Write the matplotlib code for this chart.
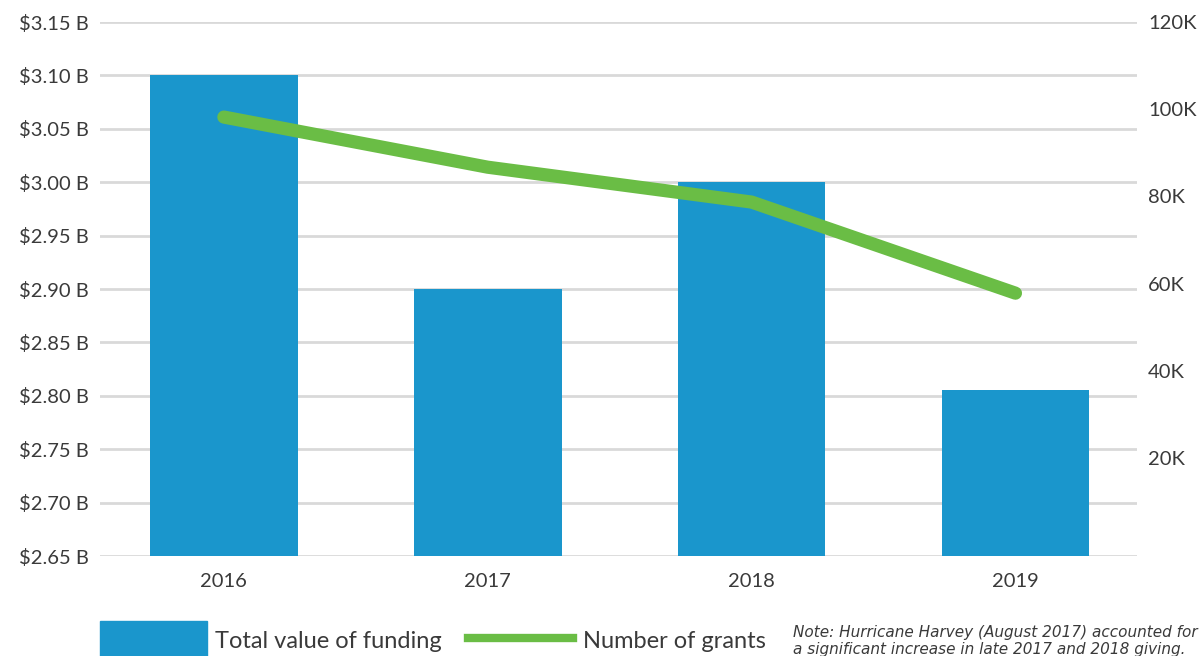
import matplotlib.pyplot as plt
from matplotlib.patches import Rectangle
from matplotlib.lines import Line2D

years = ["2016", "2017", "2018", "2019"]
funding = [3.10, 2.90, 3.00, 2.805]         # $ billions
grants = [98.2, 86.7, 78.7, 57.8]           # thousands

leftTicks = [2.65, 2.70, 2.75, 2.80, 2.85, 2.90, 2.95, 3.00, 3.05, 3.10, 3.15]
rightTicks = [20, 40, 60, 80, 100, 120]

blue = "#1a96cc"
green = "#6abd45"
textColor = "#3a3a3a"
plt.rcParams["font.family"] = ["Lato", "DejaVu Sans"]

fig = plt.figure(figsize=(12.03, 6.56), dpi=100)
ax = fig.add_axes([0.083, 0.1524, 0.862, 0.814])
x = list(range(len(years)))

ax.bar(x, [f - 2.65 for f in funding], bottom=2.65, width=0.56, color=blue, zorder=2)
ax.set_ylim(2.65, 3.15)
ax.set_xlim(-0.47, 3.46)
ax.set_yticks(leftTicks)
ax.set_yticklabels(["$%.2f B" % t for t in leftTicks])
ax.set_xticks(x)
ax.set_xticklabels(years)
ax.grid(axis="y", color="#d9d9d9", linewidth=2, zorder=0)
ax.tick_params(axis="y", length=0, labelsize=14.5, colors=textColor, pad=8)
ax.tick_params(axis="x", length=0, labelsize=14.5, colors=textColor, pad=12)
for s in ax.spines.values():
  s.set_visible(False)

ax2 = ax.twinx()
ax2.plot(x, grants, color=green, linewidth=9.5, solid_capstyle="round", solid_joinstyle="round", zorder=3)
ax2.set_ylim(-2.5, 120)
ax2.set_yticks(rightTicks)
ax2.set_yticklabels(["%dK" % t for t in rightTicks])
ax2.tick_params(length=0, labelsize=14.5, colors=textColor, pad=8)
for s in ax2.spines.values():
  s.set_visible(False)

# legend drawn along the bottom edge
W, H = 1203, 656
fig.patches.append(Rectangle((100 / W, 0), 107 / W, 35 / H, transform=fig.transFigure,
                             color=blue, figure=fig))
fig.text(215 / W, 15 / H, "Total value of funding", fontsize=17, color=textColor, va="center")
fig.lines.append(Line2D([468 / W, 573 / W], [18 / H, 18 / H], transform=fig.transFigure,
                        color=green, linewidth=6, figure=fig))
fig.text(583 / W, 15 / H, "Number of grants", fontsize=17, color=textColor, va="center")
fig.text(793 / W, 15 / H, "Note: Hurricane Harvey (August 2017) accounted for\n"
         "a significant increase in late 2017 and 2018 giving.",
         fontsize=11, family="DejaVu Sans", style="italic", color=textColor,
         va="center", linespacing=1.1)

fig.savefig("out.png", dpi=100)
